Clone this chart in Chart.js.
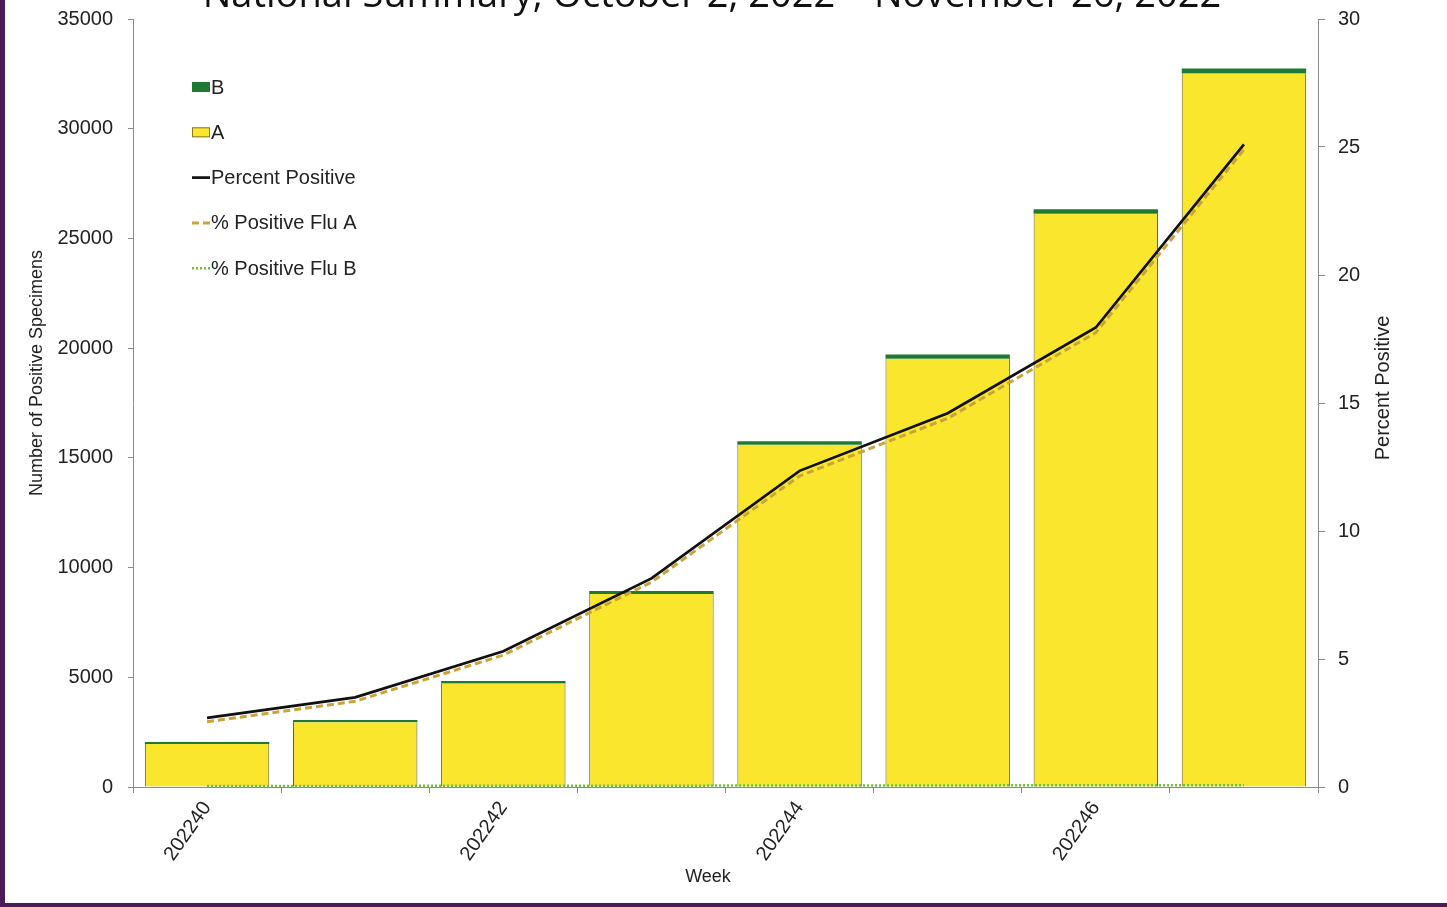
<!DOCTYPE html>
<html>
<head>
<meta charset="utf-8">
<script src="https://cdn.jsdelivr.net/npm/chart.js@4"></script>
<style>
  html, body { margin: 0; padding: 0; background: #fff; overflow: hidden; }
  #wrap { position: relative; width: 1447px; height: 907px; }
  #borderLeft { position: absolute; left: 0; top: 0; width: 5px; height: 907px; background: #4b1b5c; }
  #borderBottom { position: absolute; left: 0; bottom: 0; width: 1447px; height: 4px; background: #4b1b5c; }
</style>
</head>
<body>
<div id="wrap">
  <canvas id="myChart" width="1447" height="907"></canvas>
  <div id="borderLeft"></div>
  <div id="borderBottom"></div>
</div>
<script>
// weeks, labelled every second one on the axis
const weeks = ['202240', '202241', '202242', '202243', '202244', '202245', '202246', '202247'];

// number of positive specimens
const fluA = [1960, 2950, 4720, 8800, 15600, 19520, 26120, 32520];
const fluB = [90, 100, 110, 130, 160, 190, 210, 220];

// percent positive
const pctPositive = [2.7, 3.5, 5.3, 8.15, 12.35, 14.6, 17.95, 25.1];
const pctFluA = [2.55, 3.35, 5.15, 8.0, 12.15, 14.4, 17.75, 24.9];
const pctFluB = [0.04, 0.04, 0.05, 0.05, 0.06, 0.06, 0.07, 0.07];

const titleText = 'National Summary, October 2, 2022 \u2013 November 26, 2022';
const leftTitle = 'Number of Positive Specimens';
const rightTitle = 'Percent Positive';
const xTitle = 'Week';

const textColor = '#222';
const axisColor = '#8a8a8a';
const fontFam = '"Liberation Sans", Arial, sans-serif';

// title (cut by the top edge), axis titles and the legend inside the plot
const overlay = {
    id: 'overlay',
    afterDraw(chart) {
        const ctx = chart.ctx;
        ctx.save();
        let size = 36;
        ctx.font = size + 'px "Open Sans"';
        const w = ctx.measureText(titleText).width;
        size = size * 1019 / w;
        ctx.font = size + 'px "Open Sans"';
        ctx.fillStyle = '#111';
        ctx.textAlign = 'center';
        ctx.textBaseline = 'alphabetic';
        ctx.fillText(titleText, 712, 7);

        ctx.fillStyle = textColor;
        ctx.textBaseline = 'middle';
        ctx.font = '18px ' + fontFam;
        ctx.save();
        ctx.translate(37, 373);
        ctx.rotate(-Math.PI / 2);
        ctx.fillText(leftTitle, 0, 0);
        ctx.restore();

        ctx.font = '20px ' + fontFam;
        ctx.save();
        ctx.translate(1383, 388);
        ctx.rotate(-Math.PI / 2);
        ctx.fillText(rightTitle, 0, 0);
        ctx.restore();

        ctx.font = '18px ' + fontFam;
        ctx.fillText(xTitle, 708, 877);

        const order = [1, 0, 2, 3, 4];
        const x = 192, y0 = 87, step = 45.3;
        ctx.font = '20px ' + fontFam;
        ctx.textAlign = 'left';
        order.forEach((di, i) => {
            const ds = chart.data.datasets[di];
            const y = y0 + i * step;
            if (ds.type === 'line') {
                ctx.strokeStyle = ds.borderColor;
                ctx.lineWidth = ds.borderWidth;
                ctx.setLineDash(ds.borderDash || []);
                ctx.beginPath();
                ctx.moveTo(x, y);
                ctx.lineTo(x + 18, y);
                ctx.stroke();
                ctx.setLineDash([]);
            } else {
                ctx.fillStyle = ds.backgroundColor;
                ctx.fillRect(x, y - 5, 18, 10);
                ctx.strokeStyle = ds.legendBorder;
                ctx.lineWidth = 1;
                ctx.strokeRect(x + 0.5, y - 4.5, 17, 9);
            }
            ctx.fillStyle = textColor;
            ctx.fillText(ds.label, x + 19, y + 1);
        });
        ctx.restore();
    }
};

const tickFont = { family: fontFam, size: 20 };

function fitY(width) {
    return s => { s.width = width; s.paddingTop = 0; s.paddingBottom = 0; };
}

const ctx = document.getElementById('myChart').getContext('2d');
new Chart(ctx, {
    data: {
        labels: weeks,
        datasets: [
            {
                type: 'bar', label: 'A', data: fluA, yAxisID: 'y', stack: 's',
                backgroundColor: '#fbe62e', borderColor: '#5c5c3c', borderWidth: { top: 0, left: 1, right: 1, bottom: 0 },
                legendBorder: '#8a7a20',
                barPercentage: 0.84, categoryPercentage: 1, order: 2
            },
            {
                type: 'bar', label: 'B', data: fluB, yAxisID: 'y', stack: 's',
                backgroundColor: '#1e7a32', borderColor: '#1e6a2a', borderWidth: 0,
                legendBorder: '#1e7a32',
                barPercentage: 0.84, categoryPercentage: 1, order: 2
            },
            {
                type: 'line', label: 'Percent Positive', data: pctPositive, yAxisID: 'y1',
                borderColor: '#111', borderWidth: 2.7, pointRadius: 0, tension: 0, order: 0
            },
            {
                type: 'line', label: '% Positive Flu A', data: pctFluA, yAxisID: 'y1',
                borderColor: '#c9a43a', borderWidth: 3, borderDash: [7, 4], pointRadius: 0, tension: 0, order: 1
            },
            {
                type: 'line', label: '% Positive Flu B', data: pctFluB, yAxisID: 'y1',
                borderColor: '#6fbf3f', borderWidth: 2.5, borderDash: [2, 2], pointRadius: 0, tension: 0, order: 1
            }
        ]
    },
    options: {
        responsive: false,
        animation: false,
        devicePixelRatio: 1,
        layout: { padding: { top: 19, left: 0, right: 0, bottom: 0 } },
        plugins: {
            legend: { display: false },
            tooltip: { enabled: false }
        },
        scales: {
            x: {
                stacked: true,
                offset: true,
                afterFit: s => { s.height = 120; s.paddingLeft = 0; s.paddingRight = 0; },
                border: { color: axisColor, width: 1 },
                grid: { offset: true, drawOnChartArea: false, color: axisColor, tickLength: 6 },
                ticks: {
                    autoSkip: false,
                    maxRotation: 55, minRotation: 55,
                    padding: 4,
                    color: textColor,
                    font: tickFont,
                    callback: function (v, i) { return i % 2 === 0 ? this.getLabelForValue(v) : ''; }
                }
            },
            y: {
                type: 'linear', position: 'left', stacked: true,
                min: 0, max: 35000,
                afterFit: fitY(133),
                border: { color: axisColor, width: 1 },
                grid: { drawOnChartArea: false, color: axisColor, tickLength: 5 },
                ticks: {
                    stepSize: 5000, padding: 15, color: textColor, font: tickFont,
                    callback: v => String(v)
                }
            },
            y1: {
                type: 'linear', position: 'right',
                min: 0, max: 30,
                afterFit: fitY(129),
                border: { color: axisColor, width: 1 },
                grid: { drawOnChartArea: false, color: axisColor, tickLength: 7 },
                ticks: {
                    stepSize: 5, padding: 13, color: textColor, font: tickFont,
                    callback: v => String(v)
                }
            }
        }
    },
    plugins: [overlay]
});
</script>
</body>
</html>
